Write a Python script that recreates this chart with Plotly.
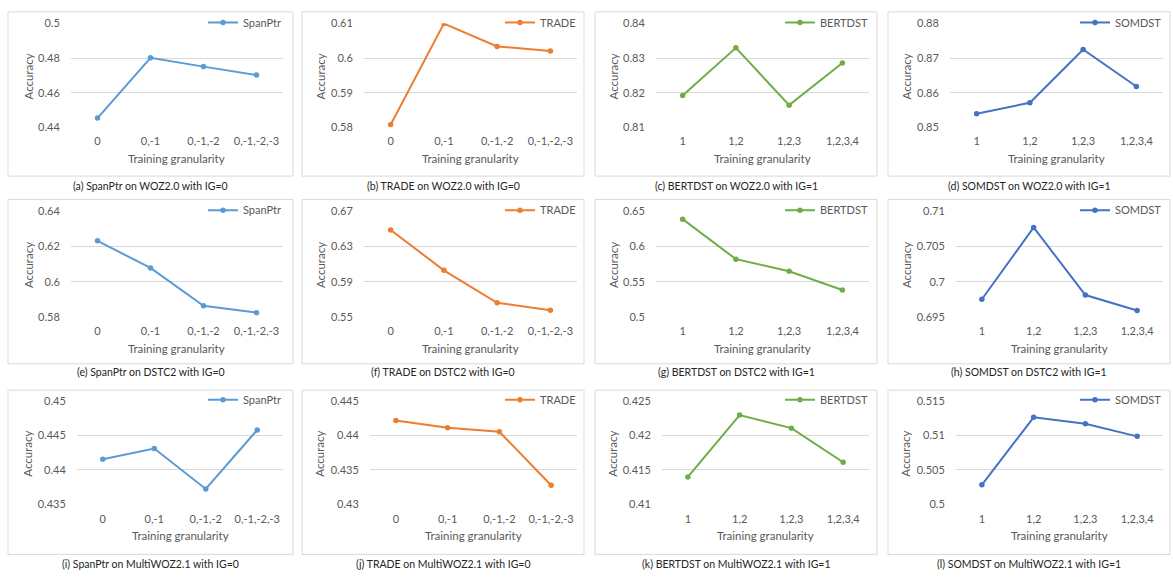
import plotly.graph_objects as go

W, H = 1173, 577

gran_ig0 = ["0", "0,-1", "0,-1,-2", "0,-1,-2,-3"]
gran_ig1 = ["1", "1,2", "1,2,3", "1,2,3,4"]

models = ["SpanPtr", "TRADE", "BERTDST", "SOMDST"]
colors = {"SpanPtr": "#5B9BD5", "TRADE": "#ED7D31", "BERTDST": "#70AD47", "SOMDST": "#4472C4"}
datasets = ["WOZ2.0", "DSTC2", "MultiWOZ2.1"]

# accuracy values, rows = datasets, per model
woz_spanptr = [0.4453, 0.4802, 0.4751, 0.4702]
woz_trade = [0.5807, 0.6100, 0.6034, 0.6021]
woz_bertdst = [0.8192, 0.8330, 0.8164, 0.8286]
woz_somdst = [0.8539, 0.8571, 0.8725, 0.8618]

dstc_spanptr = [0.6232, 0.6078, 0.5863, 0.5824]
dstc_trade = [0.6488, 0.6029, 0.5660, 0.5575]
dstc_bertdst = [0.6388, 0.5820, 0.5648, 0.5382]
dstc_somdst = [0.6975, 0.7077, 0.6981, 0.6959]

multi_spanptr = [0.44156, 0.44311, 0.43726, 0.44580]
multi_trade = [0.44215, 0.44111, 0.44054, 0.43280]
multi_bertdst = [0.41400, 0.42296, 0.42106, 0.41612]
multi_somdst = [0.50285, 0.51263, 0.51168, 0.50987]

values = [
    [woz_spanptr, woz_trade, woz_bertdst, woz_somdst],
    [dstc_spanptr, dstc_trade, dstc_bertdst, dstc_somdst],
    [multi_spanptr, multi_trade, multi_bertdst, multi_somdst],
]

y_ticks = [
    [[0.44, 0.46, 0.48, 0.5], [0.58, 0.59, 0.6, 0.61], [0.81, 0.82, 0.83, 0.84], [0.85, 0.86, 0.87, 0.88]],
    [[0.58, 0.6, 0.62, 0.64], [0.55, 0.59, 0.63, 0.67], [0.5, 0.55, 0.6, 0.65], [0.695, 0.7, 0.705, 0.71]],
    [[0.435, 0.44, 0.445, 0.45], [0.43, 0.435, 0.44, 0.445], [0.41, 0.415, 0.42, 0.425], [0.5, 0.505, 0.51, 0.515]],
]

ig = [0, 0, 1, 1]
letters = "abcdefghijkl"

# geometry (pixels)
plot_x0 = [[71, 364, 656, 950], [71, 364, 656, 956], [77, 370, 662, 956]]
plot_x1 = [283, 577, 869, 1163]
plot_top = [17, 209, 403]
plot_bot = [123, 317, 509]
panel_x0 = [8, 302, 595, 888]
panel_x1 = [293, 584, 877, 1170]
panel_y0 = [5, 197, 392]
panel_y1 = [173, 365, 560]
caption_y = [183, 373, 570]
ytitle_x = [28, 320, 613, 906]

FONT = "Lato"
TXT = "#595959"
GRID = "#D9D9D9"
FS = 11.5

def px(x):
    return x / W

def py(y):
    return 1 - y / H

fig = go.Figure()
layout = dict(
    width=W, height=H, margin=dict(l=0, r=0, t=0, b=0),
    paper_bgcolor="white", plot_bgcolor="white",
    showlegend=True, font=dict(family=FONT, size=FS, color=TXT),
)
annotations = []
shapes = []

for r in range(3):
    for c in range(4):
        i = r * 4 + c + 1
        sfx = "" if i == 1 else str(i)
        model = models[c]
        cats = gran_ig0 if ig[c] == 0 else gran_ig1
        ticks = y_ticks[r][c]
        x0 = plot_x0[r][c]
        x1 = plot_x1[c]
        fig.add_trace(go.Scatter(
            x=cats, y=values[r][c], mode="lines+markers", name=model,
            line=dict(color=colors[model], width=2),
            marker=dict(size=5.5, color=colors[model]),
            xaxis="x" + sfx, yaxis="y" + sfx, legend="legend" + sfx,
        ))
        layout["xaxis" + sfx] = dict(
            domain=[px(x0), px(x1)],
            anchor="y" + sfx, type="category", categoryarray=cats,
            range=[-0.5, 3.5], showgrid=False, zeroline=False, showline=False,
            ticks="outside", ticklen=4, tickcolor="rgba(0,0,0,0)",
            tickfont=dict(family=FONT, size=11, color=TXT), fixedrange=True,
        )
        layout["yaxis" + sfx] = dict(
            domain=[py(plot_bot[r]), py(plot_top[r])],
            anchor="x" + sfx, range=[ticks[0], ticks[-1]],
            tickvals=ticks, ticktext=[f"{t:g}" for t in ticks],
            showgrid=True, gridcolor=GRID, gridwidth=1, zeroline=False, showline=False,
            ticks="outside", ticklen=8, tickcolor="rgba(0,0,0,0)",
            tickfont=dict(family=FONT, size=11, color=TXT), fixedrange=True,
        )
        layout["legend" + sfx] = dict(
            x=px(x1 + 4), xanchor="right",
            y=py(plot_top[r] - 16), yanchor="top",
            bgcolor="rgba(0,0,0,0)", borderwidth=0,
            font=dict(family=FONT, size=11, color=TXT),
            itemwidth=30, tracegroupgap=0,
        )
        # panel border
        shapes.append(dict(
            type="rect", xref="paper", yref="paper",
            x0=px(panel_x0[c]), x1=px(panel_x1[c]),
            y0=py(panel_y1[r]), y1=py(panel_y0[r]),
            line=dict(color="#D9D9D9", width=1), fillcolor="rgba(0,0,0,0)",
        ))
        # axis titles
        annotations.append(dict(
            text="Training granularity", xref="paper", yref="paper",
            x=px((x0 + x1) / 2), y=py(plot_bot[r] + 32),
            xanchor="center", yanchor="middle", showarrow=False,
            font=dict(family=FONT, size=FS, color=TXT),
        ))
        annotations.append(dict(
            text="Accuracy", xref="paper", yref="paper",
            x=px(ytitle_x[c]), y=py((plot_top[r] + plot_bot[r]) / 2 + 1),
            xanchor="center", yanchor="middle", showarrow=False, textangle=-90,
            font=dict(family=FONT, size=FS, color=TXT),
        ))
        # caption
        annotations.append(dict(
            text=f"({letters[i-1]}) {model} on {datasets[r]} with IG={ig[c]}",
            xref="paper", yref="paper",
            x=px((panel_x0[c] + panel_x1[c]) / 2), y=py(caption_y[r]),
            xanchor="center", yanchor="middle", showarrow=False,
            font=dict(family=FONT, size=10.5, color="#262626"),
        ))

layout["annotations"] = annotations
layout["shapes"] = shapes
fig.update_layout(**layout)
fig.write_html("out.html", config={"displayModeBar": False},
               post_script="document.body.style.margin='0';")
